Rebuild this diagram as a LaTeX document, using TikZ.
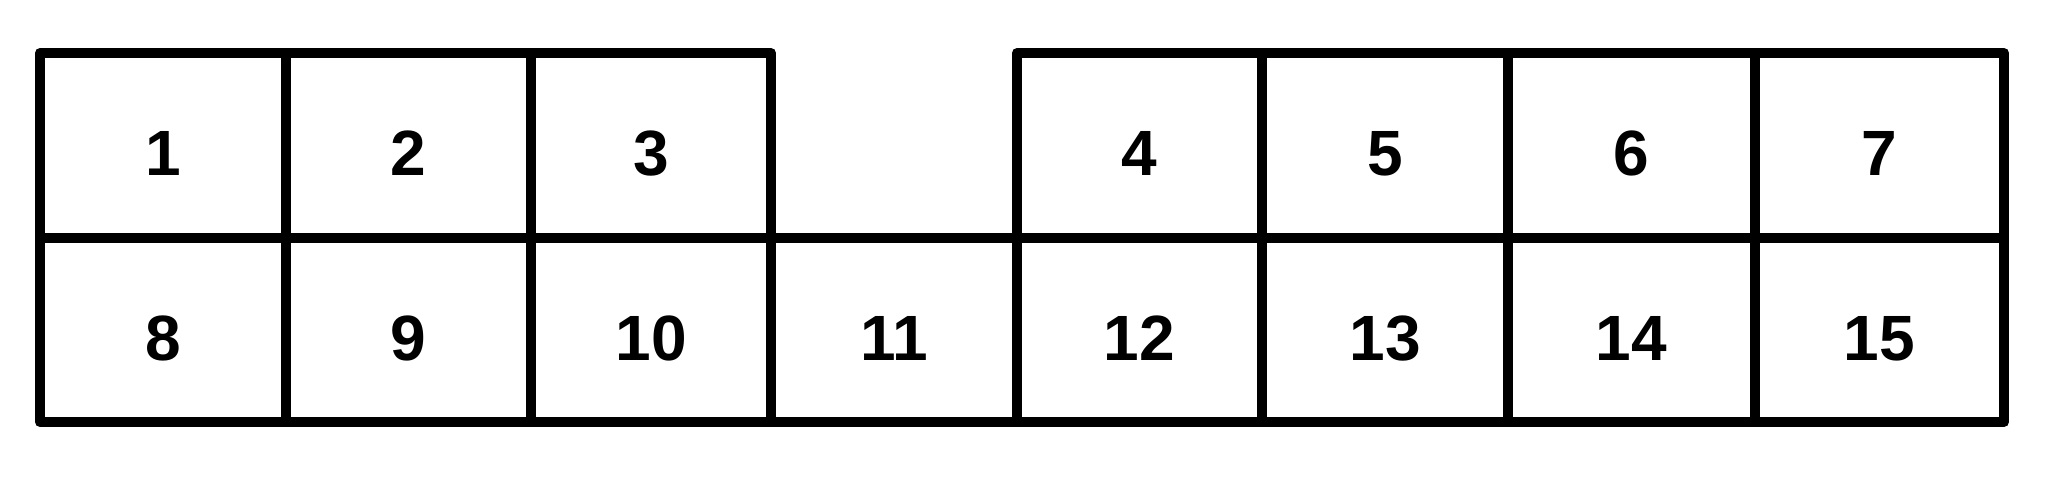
\documentclass[tikz,border=0pt]{standalone}
\usepackage{fontspec}
\setmainfont{Liberation Sans}
\begin{document}
\begin{tikzpicture}[x=0.5pt,y=-0.5pt,
  cell/.style={draw=black, line width=5pt, rectangle, inner sep=0pt, outer sep=0pt,
    font=\fontsize{32pt}{36pt}\selectfont\bfseries, line join=round}]
\useasboundingbox[fill=white] (0,0) rectangle (2048,484);
\def\xs{{40,286,531,771,1017,1262,1508,1755,2004}}
% top row
\foreach \n/\c in {1/0,2/1,3/2,4/4,5/5,6/6,7/7}{
  \pgfmathsetmacro\xa{\xs[\c]}
  \pgfmathsetmacro\xb{\xs[\c+1]}
  \pgfmathsetmacro\w{(\xb-\xa)*0.5}
  \node[cell, minimum width=\w pt, minimum height=92.5pt] (c\n) at ({(\xa+\xb)/2},145.5) {\raisebox{-4pt}[\height][0pt]{\n}};
}
% bottom row
\foreach \n/\c in {8/0,9/1,10/2,11/3,12/4,13/5,14/6,15/7}{
  \pgfmathsetmacro\xa{\xs[\c]}
  \pgfmathsetmacro\xb{\xs[\c+1]}
  \pgfmathsetmacro\w{(\xb-\xa)*0.5}
  \node[cell, minimum width=\w pt, minimum height=92pt] (c\n) at ({(\xa+\xb)/2},330) {\raisebox{-4pt}[\height][0pt]{\n}};
}
\end{tikzpicture}
\end{document}
